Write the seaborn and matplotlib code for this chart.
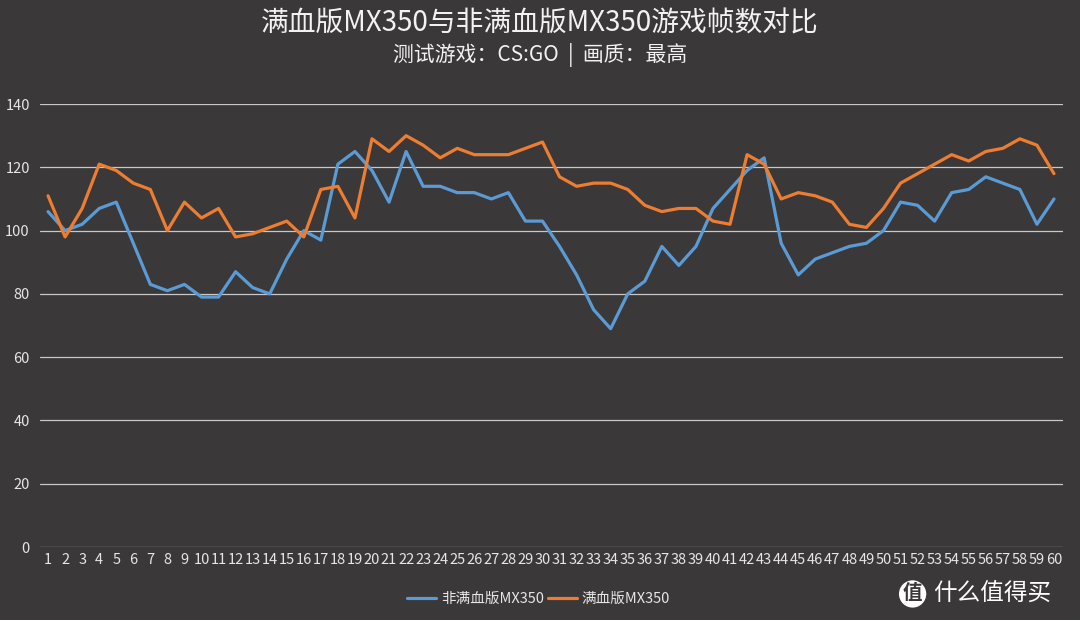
import matplotlib
matplotlib.use("Agg")
import pandas as pd
import matplotlib.pyplot as plt
import seaborn as sns

# per-second fps readings
seconds = list(range(1, 61))
fps_lite = [106, 100, 102, 107, 109, 96, 83, 81, 83, 79,
            79, 87, 82, 80, 91, 100, 97, 121, 125, 119,
            109, 125, 114, 114, 112, 112, 110, 112, 103, 103,
            95, 86, 75, 69, 80, 84, 95, 89, 95, 107,
            113, 119, 123, 96, 86, 91, 93, 95, 96, 100,
            109, 108, 103, 112, 113, 117, 115, 113, 102, 110]
fps_full = [111, 98, 107, 121, 119, 115, 113, 100, 109, 104,
            107, 98, 99, 101, 103, 98, 113, 114, 104, 129,
            125, 130, 127, 123, 126, 124, 124, 124, 126, 128,
            117, 114, 115, 115, 113, 108, 106, 107, 107, 103,
            102, 124, 121, 110, 112, 111, 109, 102, 101, 107,
            115, 118, 121, 124, 122, 125, 126, 129, 127, 118]
series_names = ["非满血版MX350", "满血版MX350"]
y_ticks = [0, 20, 40, 60, 80, 100, 120, 140]

df = pd.DataFrame({
    "sec": seconds * 2,
    "fps": fps_lite + fps_full,
    "card": [series_names[0]] * 60 + [series_names[1]] * 60,
})

bg = "#3a3838"
sns.set_theme(style="dark")
plt.rcParams["font.family"] = ["Noto Sans CJK SC", "DejaVu Sans"]

fig = plt.figure(figsize=(10.8, 6.2), dpi=100, facecolor=bg)
ax = fig.add_axes([0.0366, 0.1177, 0.9472, 0.7145])
ax.set_facecolor(bg)

sns.lineplot(data=df, x="sec", y="fps", hue="card",
             palette=["#5b9bd5", "#ed7d31"], linewidth=2.3, ax=ax)

ax.set_xlim(0.5, 60.5)
ax.set_ylim(0, 140)
ax.set_yticks(y_ticks)
ax.set_xticks(seconds)
ax.grid(axis="y", color="#c8c8c8", linewidth=0.9)
ax.grid(axis="x", visible=False)
ax.set_axisbelow(True)
for s in ax.spines.values():
    s.set_visible(False)
ax.tick_params(axis="both", colors="#e6e6e6", labelsize=10.5, length=0, pad=4)
ax.tick_params(axis="y", pad=7)
ax.set_xlabel("")
ax.set_ylabel("")

leg = ax.legend(loc="upper center", bbox_to_anchor=(0.488, -0.072), ncol=2,
                frameon=False, fontsize=10.5, handlelength=2.0, handletextpad=0.3,
                columnspacing=0.3)
for t in leg.get_texts():
    t.set_color("#e6e6e6")

fig.text(0.5, 0.962, "满血版MX350与非满血版MX350游戏帧数对比", ha="center", va="center",
         color="#f2f2f2", fontsize=20)
fig.text(0.5, 0.912, "测试游戏：CS:GO  |  画质：最高", ha="center", va="center",
         color="#f2f2f2", fontsize=15)

# watermark
fig.text(0.845, 0.042, "值", ha="center", va="center", fontsize=14, color=bg,
         fontweight="bold",
         bbox=dict(boxstyle="circle,pad=0.2", fc="white", ec="none"))
fig.text(0.919, 0.042, "什么值得买", ha="center", va="center", fontsize=17, color="white")

fig.savefig("out.png", dpi=100, facecolor=bg)
